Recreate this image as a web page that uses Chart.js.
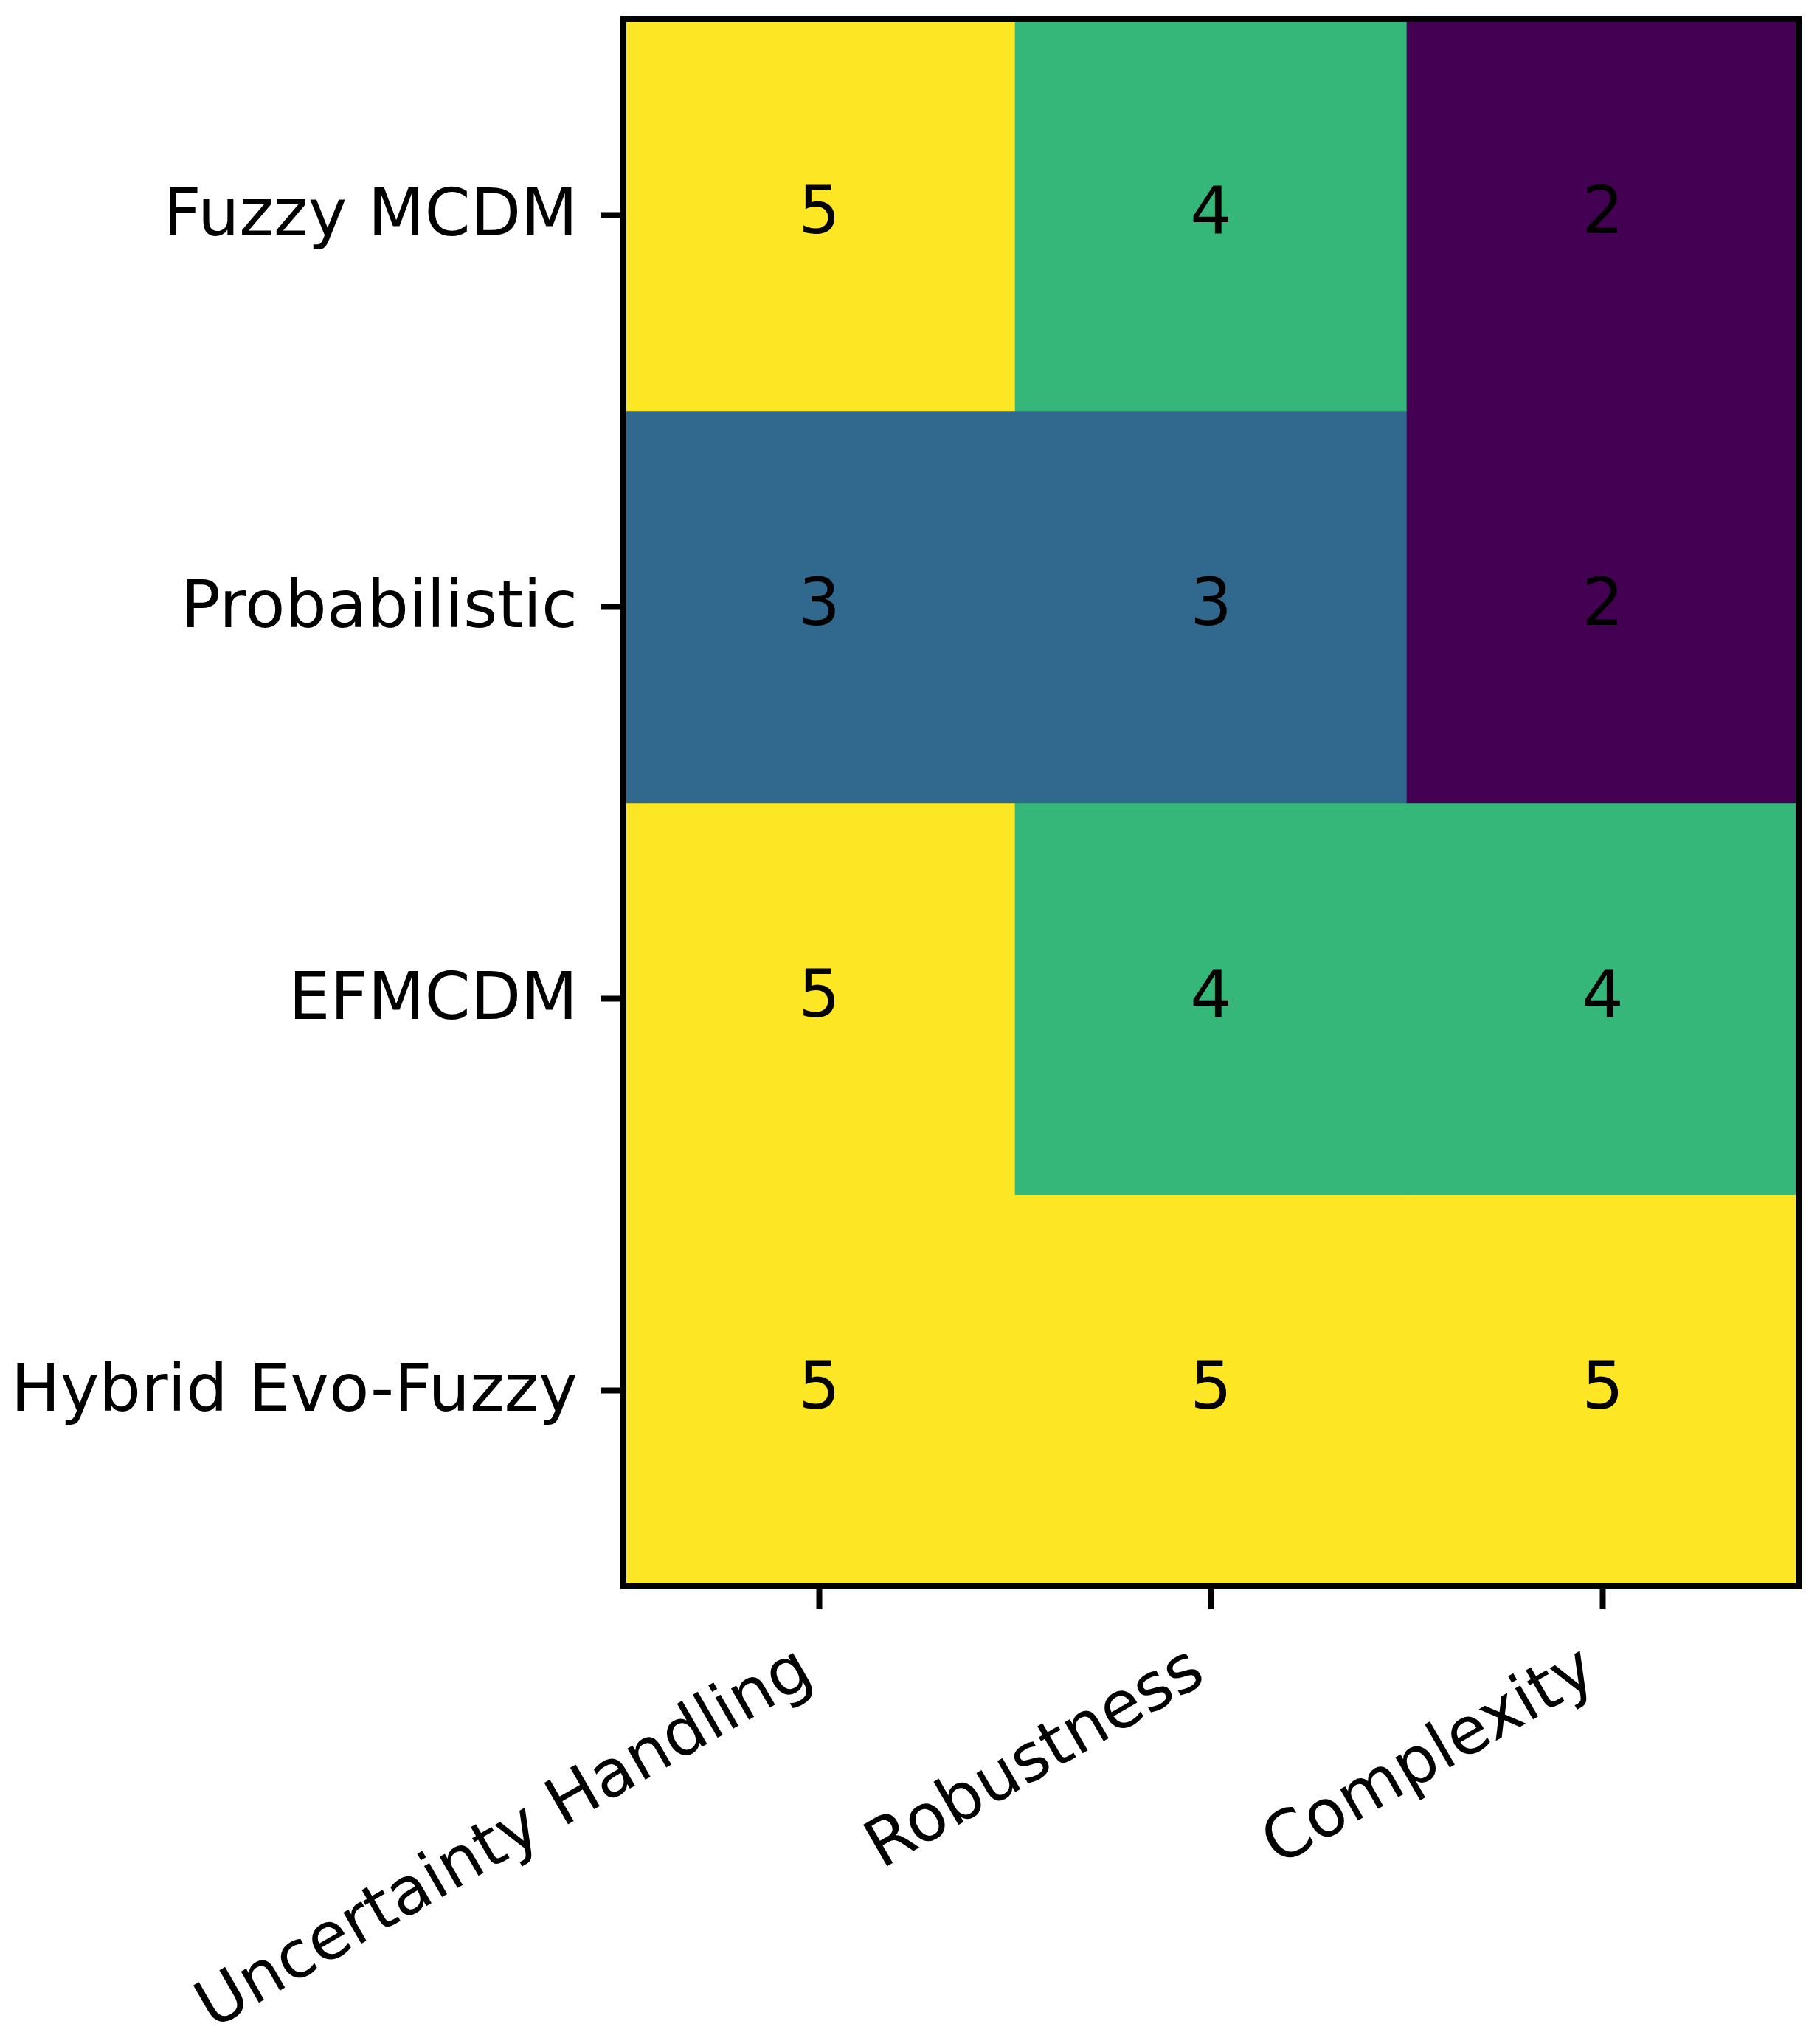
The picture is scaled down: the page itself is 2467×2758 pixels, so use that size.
<!DOCTYPE html>
<html>
<head>
<meta charset="utf-8">
<title>Method comparison heatmap</title>
<script src="https://cdn.jsdelivr.net/npm/chart.js@4.4.1/dist/chart.umd.min.js"></script>
<style>
    html, body { margin: 0; padding: 0; background: #fff; }
    #heat { display: block; }
</style>
</head>
<body>
<canvas id="heat" width="2467" height="2758"></canvas>
<script>
// ── Data ──
const methods  = ['Fuzzy MCDM', 'Probabilistic', 'EFMCDM', 'Hybrid Evo-Fuzzy'];
const criteria = ['Uncertainty Handling', 'Robustness', 'Complexity'];

const fuzzyMcdm     = [5, 4, 2];
const probabilistic = [3, 3, 2];
const efmcdm        = [5, 4, 4];
const hybridEvo     = [5, 5, 5];

const scoreRows = [fuzzyMcdm, probabilistic, efmcdm, hybridEvo];

// ── Style ──
// viridis, vmin 2 .. vmax 5
const viridis = { 2: '#440154', 3: '#31688e', 4: '#35b779', 5: '#fde725' };
const FONT = 'DejaVu Sans';
const FS = 89;

Chart.defaults.font.family = FONT;
Chart.defaults.color = '#000';

// one floating-bar dataset per row, each bar spans one cell
const datasets = scoreRows.map((row, i) => ({
    label: methods[i],
    data: row.map(() => [i - 0.5, i + 0.5]),
    scores: row,
    backgroundColor: row.map(v => viridis[v]),
    borderWidth: 0,
    grouped: false,
    barPercentage: 1,
    categoryPercentage: 1
}));

// ── Frame + cell numbers ──
const heatOverlay = {
    id: 'heatOverlay',
    afterDatasetsDraw(chart) {
        const { ctx, chartArea: a, scales: { x, y } } = chart;
        ctx.save();
        ctx.fillStyle = '#000';
        ctx.font = `${FS}px "${FONT}"`;
        ctx.textAlign = 'center';
        ctx.textBaseline = 'alphabetic';
        chart.data.datasets.forEach((ds, i) => {
            ds.scores.forEach((v, j) => {
                ctx.fillText(String(v), x.getPixelForValue(j), y.getPixelForValue(i) + FS * 0.272);
            });
        });
        ctx.lineWidth = 8;
        ctx.strokeStyle = '#000';
        ctx.strokeRect(a.left, a.top, a.right - a.left, a.bottom - a.top);
        ctx.restore();
    }
};

// keep the scales from reserving room for overhanging labels
function noOverhang(s) {
    s.paddingTop = 0;
    s.paddingBottom = 0;
    s.paddingLeft = 0;
    s.paddingRight = 0;
}

new Chart(document.getElementById('heat'), {
    type: 'bar',
    data: { labels: criteria, datasets },
    options: {
        responsive: false,
        devicePixelRatio: 1,
        animation: false,
        layout: { padding: { top: 26, right: 29, left: 0, bottom: 0 } },
        plugins: {
            legend: { display: false },
            tooltip: { enabled: false }
        },
        scales: {
            x: {
                type: 'category',
                offset: true,
                border: { display: false },
                grid: {
                    offset: false,
                    drawOnChartArea: false,
                    tickLength: 31,
                    tickWidth: 8,
                    tickColor: '#000'
                },
                ticks: {
                    autoSkip: false,
                    minRotation: 30,
                    maxRotation: 30,
                    padding: 31,
                    labelOffset: -16,
                    font: { size: FS, lineHeight: 1.2 },
                    color: '#000'
                },
                afterFit: s => { s.height = 608; noOverhang(s); }
            },
            y: {
                type: 'linear',
                min: -0.5,
                max: 3.5,
                reverse: true,
                border: { display: false },
                grid: {
                    drawOnChartArea: false,
                    tickLength: 31,
                    tickWidth: 8,
                    tickColor: '#000'
                },
                afterBuildTicks: s => { s.ticks = methods.map((_, i) => ({ value: i })); },
                ticks: {
                    padding: 31,
                    labelOffset: 4,
                    font: { size: FS },
                    color: '#000',
                    callback: v => methods[v]
                },
                afterFit: s => { s.width = 845; noOverhang(s); }
            }
        }
    },
    plugins: [heatOverlay]
});
</script>
</body>
</html>
